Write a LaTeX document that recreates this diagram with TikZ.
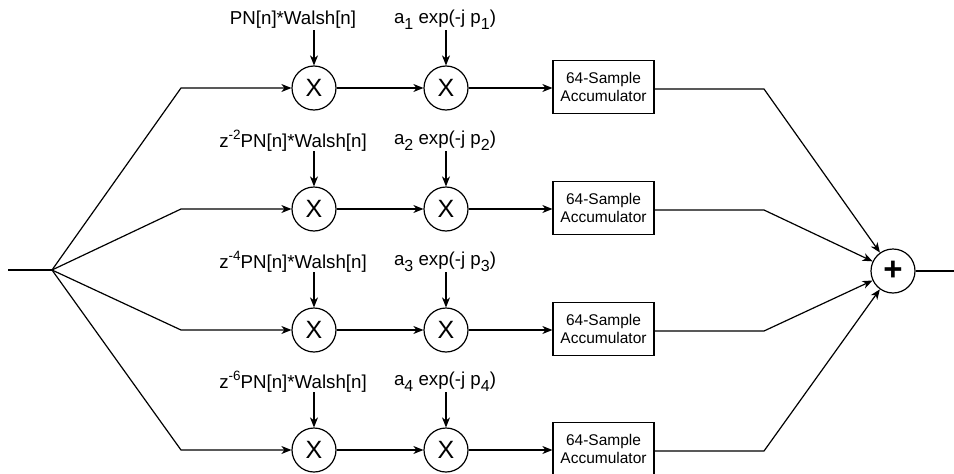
\documentclass[tikz,border=0pt]{standalone}
\usepackage{fontspec}
\setmainfont{Liberation Sans}
\usetikzlibrary{arrows.meta}
\newcommand{\mysb}[1]{\raisebox{-0.3em}{\fontsize{16}{16}\selectfont #1}}
\newcommand{\mysp}[1]{\raisebox{0.42em}{\fontsize{13.5}{13.5}\selectfont #1}}
\begin{document}
\begin{tikzpicture}[x=1pt,y=-1pt,
  line width=1.2pt,
  arr/.style={-{Stealth[length=10pt,width=8pt,inset=3pt]}},
  mult/.style={circle,draw,minimum size=44pt,inner sep=0pt,font=\fontsize{25}{25}\selectfont},
  accbox/.style={draw,minimum width=101pt,minimum height=53pt,inner sep=0pt,align=center,font=\fontsize{15.5}{18}\selectfont},
  lbl/.style={inner sep=0pt,font=\fontsize{18.7}{20}\selectfont}]
\useasboundingbox (0,0) rectangle (954,474);
\coordinate (in) at (8,270);
\coordinate (fan) at (52,270);
\node[mult,font=\fontsize{33}{33}\selectfont\bfseries] (sum) at (893,271) {\raisebox{0.04em}{+}};
\coordinate (out) at (954,271);
\draw (in) -- (fan);
\draw (sum) -- (out);
\foreach \i/\y/\pre in {1/88/{}, 2/209/{z\mysp{-2}}, 3/330/{z\mysp{-4}}, 4/450/{z\mysp{-6}}}{
  \coordinate (b\i) at (181,\y);
  \node[mult] (m\i) at (314,\y) {X};
  \node[mult] (n\i) at (446,\y) {X};
  \node[accbox] (acc\i) at (603.5,\y-1) {64-Sample\\Accumulator};
  \coordinate (c\i) at (764,\y+1);
  \node[lbl] (pl\i) at (293,\y-68) {\pre PN[n]*Walsh[n]};
  \node[lbl] (al\i) at (445,\y-68) {a\mysb{\i} exp(-j p\mysb{\i})};
  \coordinate (pa\i) at (314,\y-58);
  \coordinate (aa\i) at (446,\y-58);
  \draw[arr] (fan) -- (b\i) -- (m\i);
  \draw[arr] (pa\i) -- (m\i);
  \draw[arr] (aa\i) -- (n\i);
  \draw[arr] (m\i) -- (n\i);
  \draw[arr] (n\i) -- (acc\i.west |- n\i);
  \draw[arr] (acc\i.east |- c\i) -- (c\i) -- (sum);
}
\end{tikzpicture}
\end{document}
